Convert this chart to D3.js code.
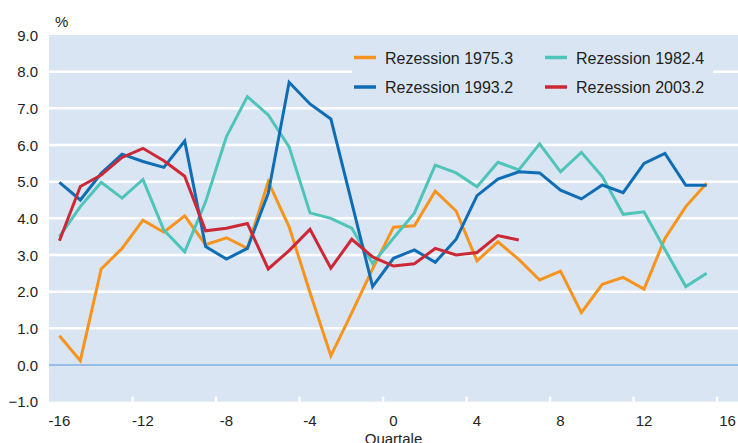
<!DOCTYPE html>
<html>
<head>
<meta charset="utf-8">
<script src="https://cdn.jsdelivr.net/npm/d3@7"></script>
<style>
  body { margin: 0; background: #fff; }
  text { font-family: "Liberation Sans", Arial, sans-serif; fill: #231f20; }
</style>
</head>
<body>
<div id="chart-container"></div>
<script>
var quarters = [-16, -15, -14, -13, -12, -11, -10, -9, -8, -7, -6, -5, -4, -3, -2, -1,
                0, 1, 2, 3, 4, 5, 6, 7, 8, 9, 10, 11, 12, 13, 14, 15];

var rez_1975 = [0.8, 0.12, 2.62, 3.18, 3.95, 3.62, 4.07, 3.28, 3.47, 3.18, 5.0, 3.77, 1.98, 0.25, 1.42, 2.62,
                3.76, 3.8, 4.74, 4.2, 2.84, 3.36, 2.88, 2.32, 2.56, 1.43, 2.2, 2.39, 2.07, 3.45, 4.32, 4.96];
var rez_1982 = [3.5, 4.32, 4.98, 4.55, 5.06, 3.68, 3.09, 4.45, 6.23, 7.32, 6.82, 5.95, 4.15, 4.0, 3.73, 2.77,
                3.46, 4.14, 5.45, 5.24, 4.86, 5.53, 5.32, 6.03, 5.27, 5.8, 5.14, 4.11, 4.18, 3.15, 2.14, 2.5];
var rez_1993 = [4.98, 4.5, 5.23, 5.75, 5.55, 5.39, 6.11, 3.23, 2.89, 3.18, 4.68, 7.71, 7.12, 6.71, 4.43, 2.14,
                2.91, 3.14, 2.8, 3.43, 4.62, 5.07, 5.27, 5.24, 4.77, 4.53, 4.91, 4.7, 5.5, 5.77, 4.9, 4.9];
var rez_2003 = [3.39, 4.87, 5.18, 5.66, 5.91, 5.57, 5.15, 3.66, 3.73, 3.86, 2.62, 3.12, 3.7, 2.64, 3.43, 2.95,
                2.7, 2.76, 3.18, 3.0, 3.07, 3.53, 3.41];

var series_names = ["Rezession 1975.3", "Rezession 1982.4", "Rezession 1993.2", "Rezession 2003.2"];
var series_colors = ["#f7941d", "#4fc4b8", "#0f6db5", "#cc2836"];
var series_values = [rez_1975, rez_1982, rez_1993, rez_2003];

var y_ticks = [-1, 0, 1, 2, 3, 4, 5, 6, 7, 8, 9];
var x_labels = [-16, -12, -8, -4, 0, 4, 8, 12, 16];
var x_tickmarks = [-12.5, -8.5, -4.5, -0.5, 3.5, 7.5, 11.5, 15.5];

var svg_width = 738;
var svg_height = 443;
var plot = {left: 49, right: 738, top: 35, bottom: 401.7};

var svg = d3.select("#chart-container")
	.append("svg")
	.attr("width", svg_width)
	.attr("height", svg_height);

var x = d3.scaleLinear()
	.domain([-16.5, 16.5])
	.range([plot.left, plot.right]);

var y = d3.scaleLinear()
	.domain([-1, 9])
	.range([plot.bottom, plot.top]);

// plot background
svg.append("rect")
	.attr("x", plot.left)
	.attr("y", plot.top)
	.attr("width", plot.right - plot.left)
	.attr("height", plot.bottom - plot.top)
	.attr("fill", "#dae5f3");

// white gridlines
svg.selectAll(".grid")
	.data(y_ticks.filter(function(d) { return d > -1 && d < 9 && d != 0; }))
	.enter()
	.append("line")
	.attr("class", "grid")
	.attr("x1", plot.left)
	.attr("x2", plot.right)
	.attr("y1", function(d) { return y(d); })
	.attr("y2", function(d) { return y(d); })
	.attr("stroke", "#fff")
	.attr("stroke-width", 2.5);

// zero line
svg.append("line")
	.attr("x1", plot.left)
	.attr("x2", plot.right)
	.attr("y1", y(0))
	.attr("y2", y(0))
	.attr("stroke", "#7fb1e0")
	.attr("stroke-width", 1.5);

// small white tick marks at the bottom
svg.selectAll(".xtick")
	.data(x_tickmarks)
	.enter()
	.append("rect")
	.attr("class", "xtick")
	.attr("x", function(d) { return x(d) - 1.2; })
	.attr("y", plot.bottom - 5)
	.attr("width", 2.4)
	.attr("height", 5)
	.attr("fill", "#fff");

// y labels
svg.selectAll(".ylabel")
	.data(y_ticks)
	.enter()
	.append("text")
	.attr("class", "ylabel")
	.attr("x", 38)
	.attr("y", function(d) { return y(d) + 5.5; })
	.attr("text-anchor", "end")
	.style("font-size", "15px")
	.text(function(d) { return d3.format(".1f")(d); });

// x labels
svg.selectAll(".xlabel")
	.data(x_labels)
	.enter()
	.append("text")
	.attr("class", "xlabel")
	.attr("x", function(d) { return x(d); })
	.attr("y", 425.5)
	.attr("text-anchor", "middle")
	.style("font-size", "15px")
	.text(function(d) { return d; });

svg.append("text")
	.attr("x", x(0))
	.attr("y", 444)
	.attr("text-anchor", "middle")
	.style("font-size", "15px")
	.text("Quartale");

svg.append("text")
	.attr("x", 55)
	.attr("y", 27)
	.style("font-size", "15px")
	.text("%");

// legend box covers the grid
svg.append("rect")
	.attr("x", 352)
	.attr("y", 40)
	.attr("width", 361)
	.attr("height", 62)
	.attr("fill", "#dae5f3");

// lines
var line = d3.line()
	.x(function(d, i) { return x(quarters[i]); })
	.y(function(d) { return y(d); });

svg.selectAll(".series")
	.data(series_values)
	.enter()
	.append("path")
	.attr("class", "series")
	.attr("d", line)
	.attr("fill", "none")
	.attr("stroke", function(d, i) { return series_colors[i]; })
	.attr("stroke-width", 3);

// legend entries
var legend_pos = [[354, 57.5], [545, 57.5], [354, 87], [545, 87]];

var lg = svg.selectAll(".legend")
	.data(series_names)
	.enter()
	.append("g")
	.attr("class", "legend")
	.attr("transform", function(d, i) {
		return "translate(" + legend_pos[i][0] + "," + legend_pos[i][1] + ")";
	});

lg.append("line")
	.attr("x1", 0)
	.attr("x2", 22)
	.attr("y1", 0)
	.attr("y2", 0)
	.attr("stroke", function(d, i) { return series_colors[i]; })
	.attr("stroke-width", 3.5);

lg.append("text")
	.attr("x", 31)
	.attr("y", 6)
	.style("font-size", "16px")
	.text(function(d) { return d; });
</script>
</body>
</html>
